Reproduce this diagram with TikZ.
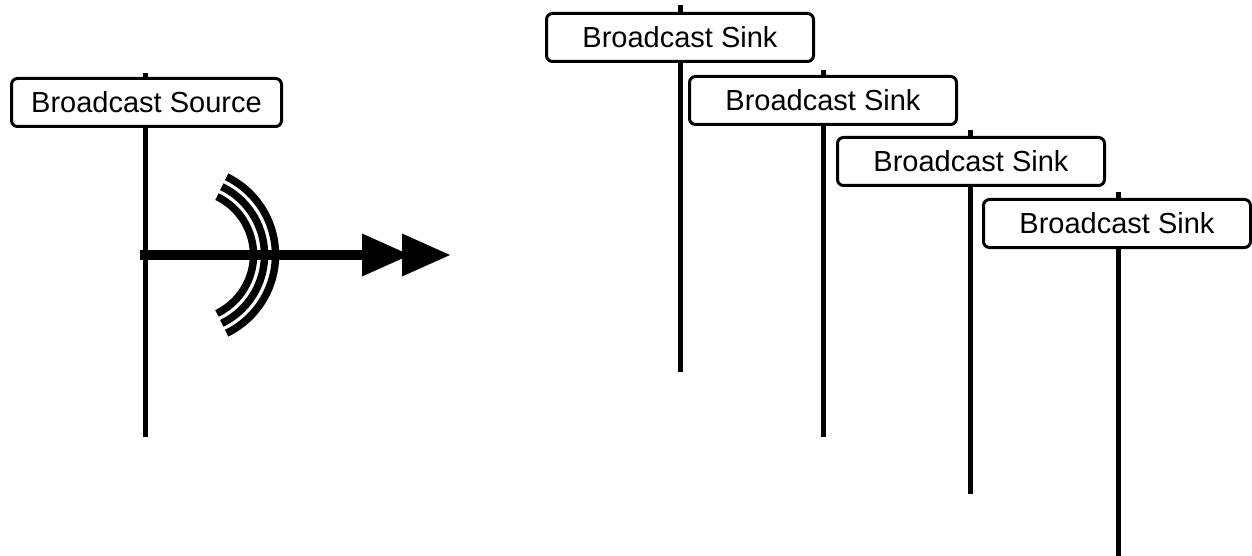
\documentclass[tikz,border=0pt]{standalone}
\usepackage{fontspec}
\setmainfont{Liberation Sans}
\begin{document}
\begin{tikzpicture}[x=1pt,y=-1pt,
  lbl/.style={draw,line width=3pt,rounded corners=6pt,fill=white,
    minimum width=267pt,minimum height=48pt,inner sep=0pt,
    font=\fontsize{29}{34}\selectfont},
  stem/.style={line width=5pt},
  wave/.style={line width=7.5pt},
  shaft/.style={line width=10pt}]
\useasboundingbox (0,0) rectangle (1252,556);
% source
\coordinate (srcT) at (145,73);
\coordinate (srcB) at (145,437);
\draw[stem] (srcT) -- (srcB);
\node[lbl,minimum width=270pt] (src) at (146.5,102.5) {Broadcast Source};
% signal arrow
\coordinate (sigS) at (140,255);
\coordinate (sigE) at (372,255);
\draw[shaft] (sigS) -- (sigE);
\fill (362,233.5) -- (410,255) -- (362,276.5) -- cycle;
\fill (402,233.5) -- (450,255) -- (402,276.5) -- cycle;
% waves
\coordinate (wc) at (188.5,255);
\foreach \r in {65,76,87}{
  \draw[wave] ([shift={(-64:\r)}]wc) arc[start angle=-64,end angle=64,radius=\r];
}
% sinks
\coordinate (s1T) at (680,5);   \coordinate (s1B) at (680,372);
\coordinate (s2T) at (823,70);  \coordinate (s2B) at (823,437);
\coordinate (s3T) at (970,130); \coordinate (s3B) at (970,494);
\coordinate (s4T) at (1118,192);\coordinate (s4B) at (1118,556);
\draw[stem] (s1T) -- (s1B);
\node[lbl] (sink1) at (680,37.5) {Broadcast Sink};
\draw[stem] (s2T) -- (s2B);
\node[lbl] (sink2) at (823,100.5) {Broadcast Sink};
\draw[stem] (s3T) -- (s3B);
\node[lbl] (sink3) at (971,161.5) {Broadcast Sink};
\draw[stem] (s4T) -- (s4B);
\node[lbl] (sink4) at (1117,223.5) {Broadcast Sink};
\end{tikzpicture}
\end{document}
